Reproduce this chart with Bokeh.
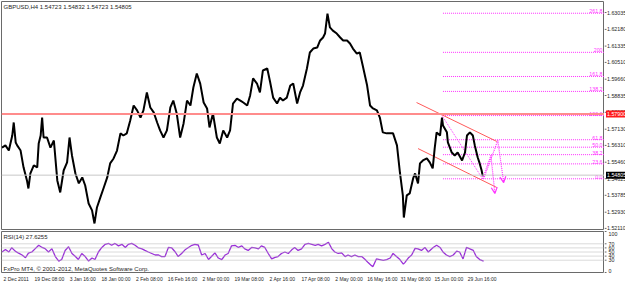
from bokeh.plotting import figure
from bokeh.layouts import column, row
from bokeh.models import (Range1d, FixedTicker, Label, Arrow, OpenHead, LinearAxis,
                          ColumnDataSource, Span)
from bokeh.core.properties import value
from bokeh.embed import file_html
from bokeh.resources import INLINE

FONT = "Liberation Sans Narrow, Liberation Sans, sans-serif"
FS = "6px"
FS_SMALL = "5.3px"
FS_TIME = "5px"

# ---------------- data ----------------
# x positions are 4-hour bar numbers counted from 2 Dec 2011
price_bars = [0, 7, 14, 21, 24, 28, 31, 38, 44, 51,
              54, 58, 65, 72, 75, 79, 82, 85, 92, 99,
              106, 113, 119, 126, 133, 138, 143, 150, 157, 164,
              170, 177, 184, 187, 189, 194, 201, 208, 215, 221,
              228, 235, 242, 248, 255, 262, 269, 276, 283, 289,
              296, 303, 310, 317, 323, 330, 337, 344, 350, 357,
              364, 371, 378, 385, 391, 398, 405, 412, 419, 424,
              431, 439, 445, 452, 460, 466, 472, 480, 487, 493,
              501, 507, 513, 521, 527, 533, 542, 548, 554, 562,
              568, 574, 582, 589, 595, 603, 609, 615, 623, 629,
              636, 644, 650, 656, 660, 665, 670, 676, 684, 691,
              697, 705, 711, 717, 725, 731, 737, 746, 752, 758,
              766, 772, 778, 786, 793, 799, 807, 813, 819, 821,
              827, 833, 840, 844, 850, 854, 860, 868, 874, 880,
              884, 888, 895, 899, 901, 909, 911, 919, 925, 931,
              940, 946, 950, 956, 962, 966, 972, 976, 980, 982,
              984]
price_close = [1.5620, 1.5631, 1.5605, 1.5681, 1.5747, 1.5646, 1.5631, 1.5605, 1.5520, 1.5454,
               1.5413, 1.5489, 1.5530, 1.5520, 1.5641, 1.5681, 1.5772, 1.5671, 1.5671, 1.5620,
               1.5656, 1.5454, 1.5393, 1.5504, 1.5545, 1.5671, 1.5580, 1.5489, 1.5439, 1.5469,
               1.5428, 1.5337, 1.5302, 1.5261, 1.5236, 1.5317, 1.5368, 1.5418, 1.5469, 1.5540,
               1.5565, 1.5605, 1.5692, 1.5681, 1.5692, 1.5757, 1.5833, 1.5808, 1.5772, 1.5808,
               1.5899, 1.5823, 1.5798, 1.5747, 1.5707, 1.5671, 1.5707, 1.5823, 1.5858, 1.5793,
               1.5671, 1.5742, 1.5858, 1.5833, 1.5924, 1.5995, 1.5944, 1.5848, 1.5818, 1.5722,
               1.5793, 1.5671, 1.5641, 1.5707, 1.5671, 1.5707, 1.5843, 1.5868, 1.5858, 1.5848,
               1.5833, 1.5884, 1.5970, 1.5944, 1.5899, 1.6010, 1.6020, 1.5949, 1.5873, 1.5843,
               1.5873, 1.5858, 1.5873, 1.5934, 1.5944, 1.5843, 1.5899, 1.5934, 1.6020, 1.6101,
               1.6121, 1.6126, 1.6162, 1.6177, 1.6197, 1.6298, 1.6228, 1.6212, 1.6197, 1.6177,
               1.6162, 1.6162, 1.6147, 1.6121, 1.6096, 1.6101, 1.6035, 1.5934, 1.5833, 1.5818,
               1.5808, 1.5772, 1.5697, 1.5692, 1.5692, 1.5692, 1.5631, 1.5494, 1.5378, 1.5266,
               1.5378, 1.5388, 1.5464, 1.5489, 1.5439, 1.5540, 1.5555, 1.5565, 1.5545, 1.5515,
               1.5615, 1.5697, 1.5681, 1.5772, 1.5732, 1.5697, 1.5646, 1.5595, 1.5580, 1.5595,
               1.5555, 1.5595, 1.5681, 1.5697, 1.5681, 1.5631, 1.5570, 1.5540, 1.5504, 1.5479,
               1.54805]

rsi_bars = [0, 7, 14, 20, 27, 34, 41, 48, 54, 61,
            68, 75, 82, 88, 95, 102, 109, 116, 122, 129,
            136, 143, 150, 156, 163, 170, 177, 184, 190, 197,
            204, 211, 218, 224, 231, 238, 245, 252, 258, 265,
            272, 279, 286, 292, 299, 306, 313, 320, 326, 333,
            340, 347, 354, 360, 367, 374, 381, 388, 394, 401,
            408, 415, 422, 428, 435, 442, 449, 456, 462, 469,
            476, 483, 490, 496, 503, 510, 517, 524, 530, 537,
            544, 551, 558, 564, 571, 578, 585, 592, 598, 605,
            612, 619, 626, 633, 640, 646, 653, 660, 667, 674,
            680, 687, 694, 701, 707, 714, 721, 728, 735, 742,
            748, 755, 758, 765, 772, 779, 786, 793, 799, 806,
            813, 820, 823, 830, 837, 844, 850, 857, 864, 871,
            881, 888, 895, 901, 908, 915, 922, 929, 935, 942,
            949, 956, 963, 969, 976, 984]
rsi_values = [50.0, 56.0, 50.0, 60.4, 52.2, 47.1, 42.7, 36.0, 47.1, 50.0,
              58.2, 66.4, 61.1, 58.2, 50.0, 58.2, 38.9, 27.8, 31.6, 53.8,
              62.7, 46.4, 38.9, 31.6, 46.4, 38.9, 27.8, 35.3, 31.6, 50.0,
              61.1, 68.7, 70.9, 66.4, 70.9, 64.9, 68.7, 61.1, 68.7, 70.9,
              66.4, 59.8, 57.6, 53.8, 50.0, 46.4, 42.7, 42.7, 38.9, 38.9,
              61.1, 59.8, 50.0, 38.9, 46.4, 55.3, 61.1, 66.4, 68.7, 67.1,
              42.7, 46.4, 31.6, 38.9, 47.8, 35.3, 31.6, 42.7, 46.4, 64.9,
              66.4, 61.1, 64.9, 57.6, 53.8, 61.1, 59.8, 57.6, 64.9, 61.1,
              46.4, 33.1, 36.7, 38.9, 46.4, 50.0, 46.4, 55.3, 61.1, 53.8,
              57.6, 68.7, 70.9, 68.7, 66.4, 68.7, 64.9, 68.7, 73.8, 57.6,
              50.0, 46.4, 47.8, 38.9, 42.7, 38.9, 42.7, 38.9, 38.9, 31.6,
              24.2, 16.7, 14.4, 33.1, 31.6, 29.3, 31.6, 35.3, 46.4, 38.9,
              31.6, 20.4, 24.2, 35.3, 42.7, 58.9, 57.6, 53.8, 61.1, 50.0,
              61.1, 66.4, 61.1, 50.0, 42.7, 38.9, 42.7, 52.2, 50.0, 33.1,
              61.1, 57.6, 53.8, 38.9, 31.6, 27.6255]

time_ticks = [0, 68, 136, 204, 272, 340, 408, 476, 544, 612, 680, 748, 816, 884, 952]
time_labels = ["2 Dec 2011", "19 Dec 08:00", "3 Jan 16:00", "18 Jan 00:00", "2 Feb 08:00",
               "16 Feb 16:00", "2 Mar 00:00", "19 Mar 08:00", "2 Apr 16:00", "17 Apr 08:00",
               "2 May 00:00", "16 May 16:00", "31 May 08:00", "15 Jun 00:00", "29 Jun 16:00"]
label_shift = 29  # MT4 writes each time label to the right of its tick

price_ticks = [1.63035, 1.62180, 1.61335, 1.60510, 1.59660, 1.58835, 1.57985,
               1.57130, 1.56310, 1.55460, 1.54625, 1.53785, 1.52930, 1.52110]

rsi_levels = [30, 40, 50, 60, 70]
rsi_scale_ticks = [0, 30, 40, 50, 60, 70, 100]

bid_price = 1.54805
red_level = 1.5790

fib_start_bar = 901
fib_low = 1.5462
fib_high = 1.5782
fib_ratios = [0.0, 23.6, 38.2, 50.0, 61.8, 100.0, 138.2, 161.8, 200.0, 261.8]
fib_texts = ["0.0", "23.6", "38.2", "50.0", "61.8", "100.0", "138.2", "161.8", "200", "261.8"]
fib_trend_bars = [899, 982]
fib_trend_prices = [1.5782, 1.5462]

channel_x0 = [847, 850]
channel_y0 = [1.5848, 1.5615]
channel_x1 = [1011, 1011]
channel_y1 = [1.5651, 1.5418]

proj_a_bars = [982, 999]
proj_a_prices = [1.5462, 1.5580]
proj_a_tip = (1007, 1.5388)
proj_b_bars = [984, 1013]
proj_b_prices = [1.5462, 1.5656]
proj_b_tip = (1025, 1.5443)

Y_LO, Y_HI = 1.52055, 1.63592
X_END = 1231
MAGENTA = "#ff33ff"
FRAME = "#6a6a6a"
TXT = "#262626"
FRAME_W = 603
SIDE_W = 21
MAIN_H = 228      # price pane frame height (px), starts 1px below the top
RSI_H = 41        # RSI pane frame height (px)
TIME_H = 11       # room for the time labels
TOTAL_H = 1 + MAIN_H + 1 + 1 + RSI_H + TIME_H


def style_fig(f):
    f.grid.visible = False
    f.outline_line_color = FRAME
    f.background_fill_color = "white"
    f.border_fill_color = "white"


# ---------------- main price pane ----------------
p = figure(frame_width=FRAME_W, frame_height=MAIN_H,
           x_range=Range1d(-1, X_END), y_range=Range1d(Y_LO, Y_HI),
           output_backend="svg", toolbar_location=None,
           x_axis_location=None, y_axis_location=None,
           min_border_left=1, min_border_right=0, min_border_top=1, min_border_bottom=1)
style_fig(p)

p.add_layout(Span(location=red_level, dimension="width", line_color="#ff8c8c", line_width=2))
p.add_layout(Span(location=bid_price, dimension="width", line_color="#c8c8c8", line_width=1))

fib_prices = [fib_low + r / 100.0 * (fib_high - fib_low) for r in fib_ratios]
fib_src = ColumnDataSource(dict(x0=[fib_start_bar] * len(fib_prices), x1=[X_END] * len(fib_prices),
                                y=fib_prices, t=fib_texts, tx=[X_END - 4] * len(fib_prices)))
p.segment(x0="x0", y0="y", x1="x1", y1="y", source=fib_src, line_color=MAGENTA,
          line_width=1, line_dash="1 1")
p.text(x="tx", y="y", text="t", source=fib_src, text_color=MAGENTA, text_align="right",
       text_baseline="bottom", text_font=value(FONT), text_font_size=FS_SMALL)
p.line(fib_trend_bars, fib_trend_prices, line_color=MAGENTA, line_dash="1 1", line_width=1)

p.segment(x0=channel_x0, y0=channel_y0, x1=channel_x1, y1=channel_y1,
          line_color="#ff5a5a", line_width=1)

p.line(price_bars, price_close, line_color="black", line_width=2)

p.line(proj_a_bars, proj_a_prices, line_color=MAGENTA, line_dash="1 1", line_width=1.2)
p.add_layout(Arrow(x_start=proj_a_bars[-1], y_start=proj_a_prices[-1],
                   x_end=proj_a_tip[0], y_end=proj_a_tip[1],
                   line_color=MAGENTA, line_dash="1 1", line_width=1.2,
                   end=OpenHead(size=6, line_color=MAGENTA, line_width=1.2)))
p.line(proj_b_bars, proj_b_prices, line_color=MAGENTA, line_dash="1 1", line_width=1.2)
p.add_layout(Arrow(x_start=proj_b_bars[-1], y_start=proj_b_prices[-1],
                   x_end=proj_b_tip[0], y_end=proj_b_tip[1],
                   line_color=MAGENTA, line_dash="1 1", line_width=1.2,
                   end=OpenHead(size=6, line_color=MAGENTA, line_width=1.2)))

p.add_layout(Label(x=1, y=Y_HI, text="GBPUSD,H4  1.54723 1.54832 1.54723 1.54805",
                   text_baseline="top", text_font=FONT, text_font_size=FS,
                   text_color=TXT, x_offset=1, y_offset=-2))

# ---------------- RSI pane ----------------
r = figure(frame_width=FRAME_W, frame_height=RSI_H,
           x_range=p.x_range, y_range=Range1d(0, 100),
           output_backend="svg", toolbar_location=None,
           x_axis_location=None, y_axis_location=None,
           min_border_left=1, min_border_right=0, min_border_top=1, min_border_bottom=TIME_H)
style_fig(r)
for lv in rsi_levels:
    r.add_layout(Span(location=lv, dimension="width", line_color="#b4b4b4",
                      line_width=1, line_dash="1 1"))
r.line(rsi_bars, rsi_values, line_color="#9b30d9", line_width=1.3)

r.extra_x_ranges = {"labels": Range1d(-1 - label_shift, X_END - label_shift)}
xa = LinearAxis(x_range_name="labels", ticker=FixedTicker(ticks=time_ticks))
xa.major_label_overrides = {t: s for t, s in zip(time_ticks, time_labels)}
xa.axis_line_color = None
xa.major_tick_line_color = None
xa.major_tick_out = 0
xa.major_tick_in = 0
xa.minor_tick_line_color = None
xa.major_label_standoff = 3
xa.major_label_text_font = FONT
xa.major_label_text_font_size = FS_TIME
xa.major_label_text_color = TXT
r.add_layout(xa, "below")

r.add_layout(Label(x=1, y=100, text="RSI(14) 27.6255", text_baseline="top",
                   text_font=FONT, text_font_size=FS, text_color=TXT, x_offset=1, y_offset=-2))
r.add_layout(Label(x=1, y=0, text="FxPro MT4, \u00a9 2001-2012, MetaQuotes Software Corp.",
                   text_baseline="bottom", text_font=FONT, text_font_size=FS,
                   text_color=TXT, x_offset=1, y_offset=1))

# ---------------- scales on the right (price + RSI), one full-height strip ----------------
u_price = (Y_HI - Y_LO) / MAIN_H
u_rsi = 100.0 / RSI_H
rsi_top_px = 1 + MAIN_H + 1 + 1          # first pixel row of the RSI frame
side_price_range = Range1d(Y_LO - (TOTAL_H - 1 - MAIN_H) * u_price, Y_HI + 1 * u_price)
side_rsi_range = Range1d(0 - TIME_H * u_rsi, 100 + rsi_top_px * u_rsi)

ps = figure(frame_width=SIDE_W, frame_height=TOTAL_H, x_range=Range1d(0, SIDE_W),
            y_range=side_price_range, output_backend="svg", toolbar_location=None,
            x_axis_location=None, y_axis_location=None,
            min_border_left=0, min_border_right=0, min_border_top=0, min_border_bottom=0)
ps.extra_y_ranges = {"rsi": side_rsi_range}
ps.grid.visible = False
ps.outline_line_color = None
ps.border_fill_color = "white"
ps.background_fill_color = "white"

ps.segment(x0=[0] * len(price_ticks), y0=price_ticks, x1=[2] * len(price_ticks), y1=price_ticks,
           line_color=FRAME, line_width=1)
ps.text(x=[2.5] * len(price_ticks), y=price_ticks, text=["%.5f" % v for v in price_ticks],
        text_baseline="middle", text_align="left", text_font=value(FONT),
        text_font_size=FS_SMALL, text_color=TXT)
ps.rect(x=[SIDE_W / 2 + 1] * 2, y=[red_level, bid_price], width=SIDE_W - 1, height=7,
        height_units="screen", fill_color=["#ff1a1a", "black"], line_color=None)
ps.text(x=[2.5, 2.5], y=[red_level, bid_price], text=["%.5f" % red_level, "%.5f" % bid_price],
        text_baseline="middle", text_align="left", text_font=value(FONT),
        text_font_size=FS_SMALL, text_color="white")

ps.segment(x0=[0] * len(rsi_scale_ticks), y0=rsi_scale_ticks, x1=[2] * len(rsi_scale_ticks),
           y1=rsi_scale_ticks, line_color=FRAME, line_width=1, y_range_name="rsi")
ps.text(x=[4] * len(rsi_scale_ticks), y=rsi_scale_ticks, text=[str(v) for v in rsi_scale_ticks],
        text_baseline=["bottom", "middle", "middle", "middle", "middle", "middle", "top"],
        text_align="left", text_font=value(FONT), text_font_size=FS_SMALL, text_color=TXT,
        y_range_name="rsi")

layout = row(column(p, r, spacing=0), ps, spacing=0)
open("out.html", "w").write(file_html(layout, INLINE))
